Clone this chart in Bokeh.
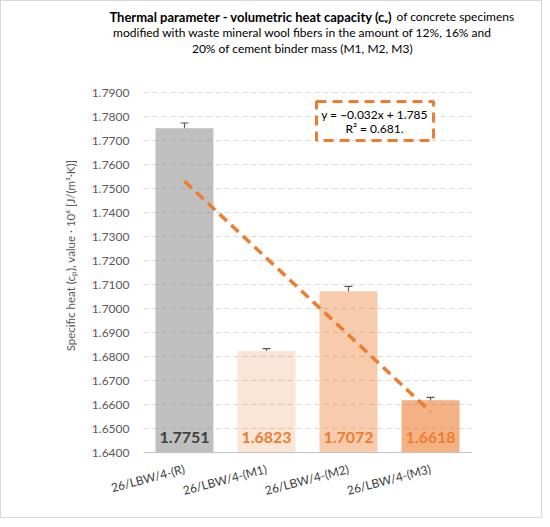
from bokeh.plotting import figure
from bokeh.models import FactorRange, Range1d, Whisker, ColumnDataSource, TeeHead, Title
from bokeh.core.properties import value
from bokeh.embed import file_html
from bokeh.resources import INLINE

# ---- data ----
categories = ["26/LBW/4-(R)", "26/LBW/4-(M1)", "26/LBW/4-(M2)", "26/LBW/4-(M3)"]
values = [1.7751, 1.6823, 1.7072, 1.6618]
errors = [0.0022, 0.0010, 0.0020, 0.0012]
bar_colors = ["#bfbfbf", "#fbe5d6", "#f8cbad", "#f4b183"]
label_colors = ["#404040", "#ed7d31", "#ed7d31", "#ed7d31"]
y_ticks = [1.64, 1.65, 1.66, 1.67, 1.68, 1.69, 1.70, 1.71, 1.72, 1.73,
           1.74, 1.75, 1.76, 1.77, 1.78, 1.79]
y_tick_labels = ["%.4f" % t for t in y_ticks]
trend_slope = -0.032
trend_intercept = 1.785
r_squared = 0.681
title_bold = "Thermal parameter - volumetric heat capacity (c\u1d65)"
title_rest = ["of concrete specimens",
              "modified with waste mineral wool fibers in the amount of 12%, 16% and",
              "20% of cement binder mass (M1, M2, M3)"]
y_label = "Specific heat (c\u209a), value \u00b7 10\u2076 [J/(m\u00b3\u00b7K)]"

FONT = "Lato"

# ---- layout (canvas pixels) ----
W, H = 542, 518
CAT_LEFT, CAT_RIGHT = 142, 470          # extent of the category band
FRAME_LEFT, FRAME_RIGHT = 88, 524       # plotting frame
FRAME_TOP, FRAME_BOTTOM = 0, 508
Y_TOP, Y_BASE = 91, 451                 # pixel rows of top / bottom tick
cat_w = (CAT_RIGHT - CAT_LEFT) / len(categories)
pad_units = (CAT_LEFT - FRAME_LEFT) / cat_w
ppu = (Y_BASE - Y_TOP) / (y_ticks[-1] - y_ticks[0])

x_range = FactorRange(*categories, range_padding=2 * pad_units / len(categories),
                      range_padding_units="percent")
y_range = Range1d(y_ticks[0] - (FRAME_BOTTOM - Y_BASE) / ppu,
                  y_ticks[-1] + (Y_TOP - FRAME_TOP) / ppu)

src = ColumnDataSource(dict(
    cat=categories,
    val=values,
    upper=[v + e for v, e in zip(values, errors)],
    lower=[v - e for v, e in zip(values, errors)],
    color=bar_colors,
    lcolor=label_colors,
    label=["%.4f" % v for v in values],
))

p = figure(width=W, height=H, x_range=x_range, y_range=y_range,
           output_backend="svg", toolbar_location=None,
           x_axis_location=None, y_axis_location=None,
           min_border_left=FRAME_LEFT, min_border_right=W - FRAME_RIGHT,
           min_border_top=FRAME_TOP, min_border_bottom=H - FRAME_BOTTOM)
p.outline_line_color = None
p.grid.visible = False
p.styles = {"border": "1px solid #d9d9d9"}

# vertical axis title, centred on the tick span
p.add_layout(Title(text=y_label, align="center", offset=-32, standoff=26,
                   text_font=FONT, text_font_style="normal", text_font_size="11.5px",
                   text_color="#595959"), "left")

n = len(categories)
p.text(x=[0] * len(y_ticks), y=y_ticks, text=y_tick_labels, x_offset=-14,
       text_align="right", text_baseline="middle", text_font=value(FONT),
       text_font_size="12px", text_color="#595959")

# bars
p.vbar(x="cat", top="val", bottom=y_ticks[0], width=0.707, source=src,
       fill_color="color", line_color=None)

# dashed gridlines (drawn over the bars, translucent)
p.segment(x0=[0] * (len(y_ticks) - 1), x1=[n] * (len(y_ticks) - 1),
          y0=y_ticks[1:], y1=y_ticks[1:], line_color="#7f7f7f", line_alpha=0.3,
          line_width=1, line_dash="5 4")
# category axis line
p.segment(x0=[0], x1=[n], y0=[y_ticks[0]], y1=[y_ticks[0]],
          line_color="#bfbfbf", line_width=1)

# category labels, rotated, ending at the category centre
p.text(x=categories, y=[y_ticks[0]] * n, text=categories, y_offset=16, angle=0.26,
       text_align="right", text_baseline="middle", text_font=value(FONT),
       text_font_size="12px", text_color="#404040")

# value labels inside bars
p.text(x="cat", y=y_ticks[0], text="label", source=src, y_offset=-15,
       text_align="center", text_baseline="middle", text_font=value(FONT),
       text_font_style="bold", text_font_size="16px", text_color="lcolor")

# linear trend line
xs_idx = [1, n]
p.line(x=[categories[0], categories[-1]],
       y=[trend_slope * i + trend_intercept for i in xs_idx],
       line_color="#ed7d31", line_width=3.5, line_dash="10 6")

# error bars
w = Whisker(base="cat", upper="upper", lower="lower", source=src,
            line_color="#595959", line_width=1.2,
            upper_head=TeeHead(size=8, line_color="#595959", line_width=1.2),
            lower_head=TeeHead(size=8, line_color="#595959", line_width=1.2))
p.add_layout(w)

# equation box
p.quad(left=2.11, right=3.537, top=1.78625, bottom=1.7700, fill_color=None,
       line_color="#ed7d31", line_width=3, line_dash="10 6")
p.text(x=[2.817, 2.817], y=[1.7808, 1.7750],
       text=["y = \u22120.032x + 1.785", "R\u00b2 = %.3f." % r_squared],
       text_align="center", text_baseline="middle", text_font=value(FONT),
       text_font_size="12px", text_color="#000000")

# chart title (bold lead-in, then regular text), anchored at the top-left tick
p.text(x=[0], y=[y_ticks[-1]], text=[title_bold], x_offset=249, y_offset=-76,
       text_align="right", text_baseline="middle", text_font=value(FONT),
       text_font_style="bold", text_font_size="13px", text_color="#000000")
p.text(x=[0], y=[y_ticks[-1]], text=[title_rest[0]], x_offset=253, y_offset=-76,
       text_align="left", text_baseline="middle", text_font=value(FONT),
       text_font_size="12px", text_color="#000000")
p.text(x=[0, 0], y=[y_ticks[-1]] * 2, text=title_rest[1:], x_offset=159,
       y_offset=[-60, -44], text_align="center", text_baseline="middle",
       text_font=value(FONT), text_font_size="12px", text_color="#000000")

open("out.html", "w").write(file_html(p, INLINE))
